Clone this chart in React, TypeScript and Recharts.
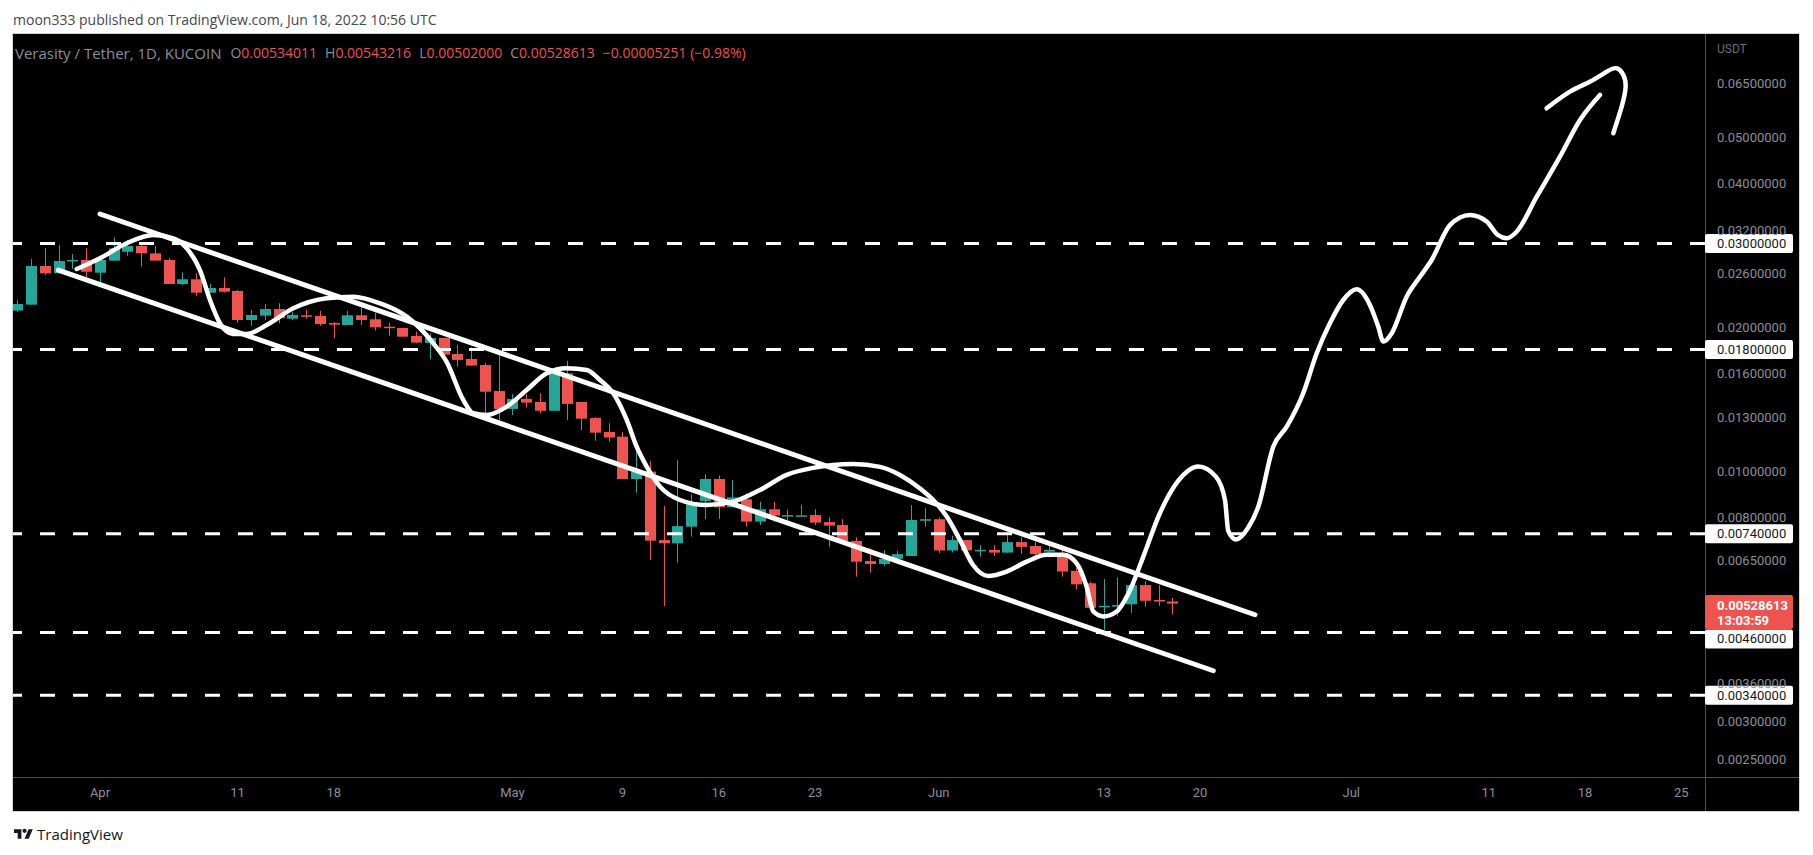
import React from "react";
import {
  ComposedChart,
  Bar,
  Line,
  XAxis,
  YAxis,
  ReferenceLine,
} from "recharts";

// VRA/USDT 1D candles, 2022-03-26 .. 2022-06-18 (one per day, t = day index)
const OPEN = [
  0.0217, 0.02233, 0.02691, 0.02597, 0.02753, 0.0277, 0.02605, 0.02761, 0.02882, 0.02963,
  0.0286, 0.0277, 0.02467, 0.02524, 0.02366, 0.0242, 0.02386, 0.02074, 0.02118, 0.02187,
  0.02087, 0.02122, 0.02115, 0.02044, 0.02025, 0.02122, 0.02081, 0.02008, 0.01996, 0.01921,
  0.01857, 0.01902, 0.01761, 0.01719, 0.0167, 0.01473, 0.01351, 0.01418, 0.01397, 0.01339,
  0.01604, 0.01397, 0.01293, 0.01209, 0.01182, 0.00964, 0.00999, 0.00718, 0.00707, 0.00766,
  0.00867, 0.00964, 0.00841, 0.00874, 0.00785, 0.00833, 0.00806, 0.00804, 0.0081, 0.00783,
  0.00772, 0.00715, 0.00649, 0.0064, 0.00656, 0.00665, 0.00788, 0.00794, 0.00683, 0.00718,
  0.00683, 0.00685, 0.00676, 0.00711, 0.00698, 0.00679, 0.00674, 0.00619, 0.00583, 0.0052,
  0.00521, 0.00527, 0.00578, 0.00538, 0.00534011,
];
const HIGH = [
  0.02284, 0.02783, 0.0293, 0.02977, 0.0285, 0.0293, 0.02793, 0.0309, 0.0305, 0.02977,
  0.02963, 0.02793, 0.0261, 0.02597, 0.02467, 0.02547, 0.02397, 0.02177, 0.0224, 0.02248,
  0.02159, 0.02177, 0.02167, 0.02054, 0.02167, 0.02201, 0.02149, 0.02047, 0.01996, 0.01961,
  0.01946, 0.01902, 0.01839, 0.01819, 0.01689, 0.01767, 0.01452, 0.01452, 0.01457, 0.01599,
  0.01703, 0.01397, 0.01298, 0.01261, 0.01208, 0.01099, 0.01052, 0.00846, 0.01056, 0.00895,
  0.00986, 0.0098, 0.00959, 0.009, 0.00864, 0.00864, 0.00833, 0.0085, 0.00833, 0.00801,
  0.00794, 0.00728, 0.0069, 0.00685, 0.00682, 0.0085, 0.00837, 0.00801, 0.00733, 0.00718,
  0.00701, 0.00701, 0.00748, 0.00728, 0.00712, 0.00698, 0.00685, 0.00628, 0.00587, 0.00595,
  0.006, 0.00578, 0.00589, 0.00578, 0.00543216,
];
const LOW = [
  0.02159, 0.02233, 0.02576, 0.02597, 0.02652, 0.02547, 0.02487, 0.02761, 0.02827, 0.02682,
  0.02761, 0.02467, 0.02455, 0.02329, 0.02366, 0.02366, 0.02047, 0.02015, 0.02074, 0.02041,
  0.02074, 0.02087, 0.02018, 0.019, 0.02025, 0.02025, 0.0197, 0.01923, 0.01914, 0.01854,
  0.01715, 0.01752, 0.01657, 0.01665, 0.01323, 0.01281, 0.01312, 0.0136, 0.01323, 0.01339,
  0.01281, 0.01221, 0.01159, 0.01153, 0.00964, 0.00902, 0.00652, 0.00523, 0.00644, 0.0073,
  0.00795, 0.00795, 0.00841, 0.00766, 0.00772, 0.00785, 0.00791, 0.00804, 0.00772, 0.00695,
  0.00715, 0.00602, 0.00614, 0.00633, 0.00656, 0.00665, 0.00766, 0.00674, 0.00676, 0.00683,
  0.00663, 0.00665, 0.00676, 0.00672, 0.00663, 0.00663, 0.00602, 0.00566, 0.00518, 0.00466,
  0.00499, 0.00505, 0.00521, 0.00523, 0.00502,
];
const CLOSE = [
  0.0224, 0.02691, 0.02597, 0.02757, 0.0277, 0.02617, 0.0277, 0.0293, 0.02963, 0.0286,
  0.02761, 0.02467, 0.02524, 0.02366, 0.0242, 0.02377, 0.02074, 0.02125, 0.02187, 0.02092,
  0.02125, 0.02108, 0.02034, 0.02028, 0.02122, 0.02074, 0.02002, 0.01999, 0.01914, 0.0186,
  0.01902, 0.01755, 0.01711, 0.01665, 0.01468, 0.01351, 0.01418, 0.01393, 0.01339, 0.01599,
  0.01384, 0.01289, 0.01205, 0.01177, 0.00964, 0.00999, 0.00716, 0.00707, 0.00768, 0.00854,
  0.00964, 0.00841, 0.00882, 0.00785, 0.00833, 0.00808, 0.0081, 0.00809, 0.00781, 0.0077,
  0.00715, 0.00647, 0.0064, 0.00656, 0.00671, 0.00791, 0.00794, 0.00683, 0.00718, 0.00683,
  0.00685, 0.00676, 0.00711, 0.00695, 0.00671, 0.00685, 0.00617, 0.0058, 0.00518, 0.00523,
  0.00525, 0.00578, 0.00536, 0.00534, 0.00528613,
];

const CHANGE = "\u22120.00005251";
const CHANGE_PCT = "(\u22120.98%)";
const COUNTDOWN = "13:03:59";

// time axis: day index -> label
const TICK_DAYS = [6, 16, 23, 36, 44, 51, 58, 67, 79, 86, 97, 107, 114, 121];
const TICK_LABELS = ["Apr", "11", "18", "May", "9", "16", "23", "Jun", "13", "20", "Jul", "11", "18", "25"];

const PRICE_TICKS = [
  0.065, 0.05, 0.04, 0.032, 0.026, 0.02, 0.016, 0.013, 0.01, 0.008, 0.0065, 0.0036, 0.003,
  0.0025,
];
const LEVELS = [0.03, 0.018, 0.0074, 0.0046, 0.0034];

// drawings, as [day, price]
const UPPER_CHANNEL = [[6.0, 0.03457], [90.0, 0.00501]];
const LOWER_CHANNEL = [[2.97, 0.02639], [86.97, 0.003825]];
const WAVE = [
  [4.31, 0.02652], [6.0, 0.02793], [7.94, 0.03002], [9.88, 0.03124], [11.33, 0.03075],
  [12.31, 0.0293], [13.27, 0.02639], [14.0, 0.02284], [14.73, 0.02041], [15.67, 0.01939],
  [16.67, 0.01939], [18.12, 0.02025], [20.06, 0.02194], [22.49, 0.02303], [24.42, 0.02321],
  [26.36, 0.02248], [28.31, 0.02108], [30.24, 0.01854], [31.21, 0.01695], [32.42, 0.01411],
  [33.15, 0.01323], [34.12, 0.01312], [35.58, 0.01366], [37.03, 0.0148], [38.49, 0.01604],
  [39.94, 0.01644], [41.4, 0.0163], [42.36, 0.01553], [43.33, 0.01457], [44.31, 0.01281],
  [45.03, 0.01126], [45.76, 0.01023], [46.73, 0.00929], [48.18, 0.00871], [50.12, 0.0085],
  [52.06, 0.00864], [54.0, 0.00914], [55.94, 0.00983], [57.85, 0.01017], [60.79, 0.01036],
  [62.73, 0.01022], [64.18, 0.00983], [65.64, 0.00921], [66.6, 0.00871], [67.58, 0.00804],
  [68.55, 0.00718], [69.51, 0.00636], [70.6, 0.00604], [71.94, 0.00617], [73.4, 0.00647],
  [74.85, 0.00669], [76.06, 0.00669], [77.03, 0.00642], [77.76, 0.00573], [78.24, 0.00509],
  [78.97, 0.00497], [79.94, 0.00509], [80.91, 0.00564], [81.88, 0.00663], [83.09, 0.00818],
  [84.4, 0.00954], [85.88, 0.01024], [87.16, 0.00975], [87.82, 0.00871], [88.06, 0.0075],
  [88.62, 0.0072], [89.49, 0.00761], [90.24, 0.00843], [91.33, 0.01126], [92.31, 0.0124],
  [93.51, 0.01457], [94.49, 0.01767], [95.45, 0.02041], [96.42, 0.02284], [97.4, 0.02405],
  [98.36, 0.0223], [98.97, 0.02008], [99.33, 0.01869], [99.96, 0.01949], [101.03, 0.02321],
  [102.0, 0.02555], [102.85, 0.0277], [104.18, 0.03278], [105.64, 0.0344], [106.85, 0.03334],
  [107.67, 0.03124], [108.31, 0.03075], [109.03, 0.03174], [110.49, 0.03758], [112.18, 0.04557],
  [113.64, 0.0544], [115.09, 0.06136],
];
const ARROW_HEAD = [
  [111.21, 0.05755], [112.91, 0.06234], [114.36, 0.06542], [115.58, 0.06865], [116.31, 0.06979],
  [116.79, 0.06757], [116.96, 0.06387], [116.67, 0.05799], [116.06, 0.05102],
];

const UP = "#26a69a";
const DOWN = "#ef5350";
const AXIS_TEXT = "#8c8f98";
const FONT = "Roboto, 'Noto Sans', sans-serif";
const UI_FONT = "'Open Sans', 'Noto Sans', sans-serif";
const BODY_W = 11;

const candles = OPEN.map((o, i) => ({ t: i, o, h: HIGH[i], l: LOW[i], c: CLOSE[i] }));
const toPoints = (pts: number[][]) => pts.map(([t, p]) => ({ t, p }));
const last = candles[candles.length - 1];
const fmt = (v: number) => v.toFixed(8);

const Candle = (props: any) => {
  const { x, width, payload } = props;
  let { y, height } = props;
  if (height < 0) {
    y += height;
    height = -height;
  }
  const { o, h, l, c } = payload;
  const span = Math.log(h) - Math.log(l) || 1;
  const py = (v: number) => y + (height * (Math.log(h) - Math.log(v))) / span;
  const color = c >= o ? UP : DOWN;
  const top = py(Math.max(o, c));
  const bot = py(Math.min(o, c));
  const mid = Math.round(x + width / 2);
  return (
    <g>
      <line x1={mid + 0.5} x2={mid + 0.5} y1={y} y2={y + height} stroke={color} strokeWidth={1} />
      <rect x={mid + 0.5 - BODY_W / 2} y={top} width={BODY_W} height={Math.max(1.5, bot - top)} fill={color} />
    </g>
  );
};

const LevelTag = (props: any) => {
  const { viewBox, value, nudge = 0 } = props;
  const x = viewBox.x + viewBox.width;
  const y = viewBox.y + nudge;
  return (
    <g>
      <rect x={x} y={y - 9.5} width={88} height={19} rx={2} fill="#ffffff" />
      <text x={x + 12} y={y} dominantBaseline="central" fontSize={13} fontFamily={FONT} fill="#131722">
        {fmt(value)}
      </text>
    </g>
  );
};

const PriceTag = (props: any) => {
  const { viewBox } = props;
  const x = viewBox.x + viewBox.width;
  const y = viewBox.y;
  return (
    <g>
      <rect x={x} y={y - 8.5} width={88} height={34} rx={2} fill={DOWN} />
      <text x={x + 12} y={y + 1.5} dominantBaseline="central" fontSize={13} fontWeight={700} fontFamily={FONT} fill="#ffffff">
        {fmt(last.c)}
      </text>
      <text x={x + 12} y={y + 17} dominantBaseline="central" fontSize={13} fontWeight={700} fontFamily={FONT} fill="#ffffff">
        {COUNTDOWN}
      </text>
    </g>
  );
};

const drawStyle = {
  stroke: "#ffffff",
  strokeWidth: 5,
  strokeLinecap: "round" as const,
  strokeLinejoin: "round" as const,
};

export default function App() {
  return (
    <div style={{ position: "absolute", left: 0, top: 0, width: 1813, height: 855, background: "#ffffff", overflow: "hidden" }}>
      <div style={{ position: "absolute", left: 13, top: 10, lineHeight: "20px", fontSize: 14, fontFamily: UI_FONT, color: "#434651" }}>
        moon333 published on TradingView.com, Jun 18, 2022 10:56 UTC
      </div>

      <div style={{ position: "absolute", left: 12, top: 33, width: 1788, height: 779, boxSizing: "border-box", border: "1px solid #d1d4dc", background: "#000000" }} />
      <div style={{ position: "absolute", left: 1705, top: 34, width: 1, height: 777, background: "#4c4f58" }} />
      <div style={{ position: "absolute", left: 13, top: 777, width: 1786, height: 1, background: "#4c4f58" }} />

      <div style={{ position: "absolute", left: 13, top: 34 }}>
        <ComposedChart width={1786} height={777} data={candles} margin={{ top: 0, right: 0, bottom: 0, left: 0 }}>
          <XAxis
            dataKey="t"
            type="number"
            domain={[-0.327, 122.73]}
            allowDataOverflow
            ticks={TICK_DAYS}
            interval={0}
            tickFormatter={(v) => TICK_LABELS[TICK_DAYS.indexOf(v)] ?? ""}
            axisLine={false}
            tickLine={false}
            tickSize={0}
            tickMargin={11}
            height={34}
            tick={{ fill: AXIS_TEXT, fontSize: 13, fontFamily: FONT }}
          />
          <YAxis
            orientation="right"
            scale="log"
            domain={[0.002292, 0.08232]}
            allowDataOverflow
            ticks={PRICE_TICKS}
            interval={0}
            tickFormatter={(v) => fmt(v)}
            axisLine={false}
            tickLine={false}
            tickSize={0}
            tickMargin={12}
            width={94}
            tick={{ fill: AXIS_TEXT, fontSize: 13, fontFamily: FONT }}
          />
          <Bar dataKey={(d: any) => [d.l, d.h]} barSize={BODY_W} shape={<Candle />} isAnimationActive={false} />
          {LEVELS.map((lvl) => (
            <ReferenceLine
              key={lvl}
              y={lvl}
              stroke="#ffffff"
              strokeWidth={3}
              strokeDasharray="15 18"
              label={<LevelTag value={lvl} nudge={lvl === 0.0046 ? 6.5 : 0} />}
            />
          ))}
          <ReferenceLine y={last.c} stroke="none" strokeOpacity={0} label={<PriceTag />} />
          <Line data={toPoints(UPPER_CHANNEL)} dataKey="p" type="linear" dot={false} activeDot={false} {...drawStyle} isAnimationActive={false} />
          <Line data={toPoints(LOWER_CHANNEL)} dataKey="p" type="linear" dot={false} activeDot={false} {...drawStyle} isAnimationActive={false} />
          <Line data={toPoints(WAVE)} dataKey="p" type="monotone" dot={false} activeDot={false} {...drawStyle} strokeWidth={4.5} isAnimationActive={false} />
          <Line data={toPoints(ARROW_HEAD)} dataKey="p" type="natural" dot={false} activeDot={false} {...drawStyle} strokeWidth={4.5} isAnimationActive={false} />
        </ComposedChart>
      </div>

      <div style={{ position: "absolute", left: 1717, top: 42, fontSize: 12, fontFamily: FONT, color: "#6a6d78" }}>USDT</div>

      <div style={{ position: "absolute", left: 15, top: 43, lineHeight: "20px", fontSize: 14, fontFamily: UI_FONT, color: "#8c8f98", whiteSpace: "nowrap", display: "flex" }}>
        <span style={{ fontSize: 15 }}>Verasity / Tether, 1D, KUCOIN</span>
        <span style={{ marginLeft: 9 }}>O<span style={{ color: DOWN }}>{fmt(last.o)}</span></span>
        <span style={{ marginLeft: 8 }}>H<span style={{ color: DOWN }}>{fmt(last.h)}</span></span>
        <span style={{ marginLeft: 8 }}>L<span style={{ color: DOWN }}>{fmt(last.l)}</span></span>
        <span style={{ marginLeft: 8 }}>C<span style={{ color: DOWN }}>{fmt(last.c)}</span></span>
        <span style={{ marginLeft: 8, color: DOWN }}>{CHANGE} {CHANGE_PCT}</span>
      </div>

      <div style={{ position: "absolute", left: 14, top: 824, display: "flex", alignItems: "center" }}>
        <svg width={19} height={15} viewBox="0 0 36 28">
          <path d="M14 22H7V11H0V4h14v18zM28 22h-8l7.5-18h8L28 22z" fill="#131722" />
          <circle cx={20} cy={7} r={4} fill="#131722" />
        </svg>
        <span style={{ marginLeft: 4, fontSize: 15, fontFamily: UI_FONT, color: "#131722" }}>TradingView</span>
      </div>
    </div>
  );
}
